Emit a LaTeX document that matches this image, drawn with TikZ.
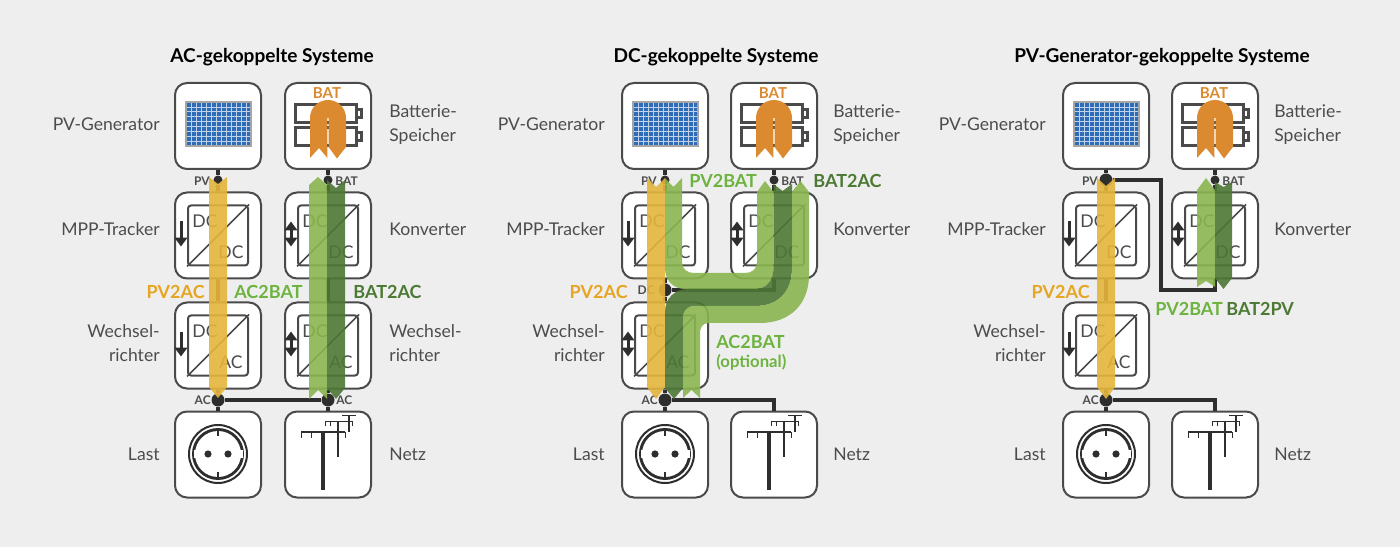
\documentclass[tikz,border=0pt]{standalone}
\usepackage{fontspec}
\setmainfont{Lato}
\usetikzlibrary{arrows.meta}

\definecolor{bggray}{HTML}{EEEEEE}
\definecolor{wiregray}{HTML}{2E2E2E}
\definecolor{boxgray}{HTML}{4A4A4A}
\definecolor{labelgray}{HTML}{4C4C4C}
\definecolor{flowyel}{HTML}{E5B53B}
\definecolor{flowlgt}{HTML}{8AB54F}
\definecolor{flowdrk}{HTML}{4D7735}
\definecolor{txtyel}{HTML}{E6A522}
\definecolor{txtlgt}{HTML}{6DB33F}
\definecolor{txtdrk}{HTML}{4C7A34}
\definecolor{batorange}{HTML}{DC8A30}
\definecolor{panelblue}{HTML}{2F6CB8}

\def\pxu{0.02cm}

\tikzset{
	unitbox/.style={draw=boxgray, fill=white, line width=2*\pxu, rounded corners=12*\pxu, minimum size=86*\pxu, inner sep=0},
	innerbox/.style={draw=boxgray, line width=2*\pxu, rounded corners=3*\pxu, minimum size=60*\pxu, inner sep=0},
	wire/.style={draw=wiregray, line width=3.6*\pxu},
	jsmall/.style={circle, fill=wiregray, minimum size=9*\pxu, inner sep=0},
	jbig/.style={circle, fill=wiregray, minimum size=13*\pxu, inner sep=0},
	lbl/.style={text=labelgray, inner sep=0, font=\fontsize{10}{13.7}\selectfont},
	title/.style={text=black, inner sep=0, font=\fontsize{10.85}{13}\selectfont\bfseries},
	portlbl/.style={text=labelgray, inner sep=0, font=\fontsize{6.8}{8}\selectfont\bfseries},
	dclbl/.style={text=labelgray, inner sep=0, font=\fontsize{10}{11}\selectfont},
	flowlbl/.style={inner sep=0, font=\fontsize{10.25}{12}\selectfont\bfseries},
	flowyellow/.style={fill=flowyel, fill opacity=.9},
	flowlight/.style={fill=flowlgt, fill opacity=.9},
	flowdark/.style={fill=flowdrk, fill opacity=.9},
	onearrow/.style={line width=3*\pxu, -{Triangle[length=5pt,width=7pt]}},
	twoarrow/.style={line width=3*\pxu, {Triangle[length=5pt,width=7pt]}-{Triangle[length=5pt,width=7pt]}},
}

% dc box: name, x, y, lower text, arrow style
\newcommand{\dcbox}[5]{
	\node [unitbox] (#1) at (#2,#3) {};
	\node [innerbox] (#1i) at (#2,#3) {};
	\draw [draw=boxgray, line width=1.5*\pxu] (#1i.south west) -- (#1i.north east);
	\node [dclbl] (#1t) at ({#2-13},{#3-14}) {DC};
	\node [dclbl] (#1b) at ({#2+13},{#3+17}) {#4};
	\draw [wiregray, #5] ([shift={(-6,-14)}]#1i.west) -- ([shift={(-6,11)}]#1i.west);
}

% straight flow: style, x1, x2, tail, notch, shoulder, tip
\newcommand{\flowbar}[7]{
	\path [#1] (#2,#4) -- ({(#2+#3)/2},#5) -- (#3,#4) -- (#3,#6) -- ({(#2+#3)/2},#7) -- (#2,#6) -- cycle;
}

\begin{document}
\begin{tikzpicture}[x=\pxu, y=-\pxu, line cap=butt, line join=miter]
	\useasboundingbox (0,0) rectangle (1400,547);
	\fill [bggray] (0,0) rectangle (1400,547);

	\foreach \sys/\xa/\xb/\cx/\ttl/\inva/\jpv/\lx/\rx in {a/218/328/272/AC-gekoppelte Systeme/onearrow/jsmall/160/389,
		b/665/774/716/DC-gekoppelte Systeme/twoarrow/jsmall/605/833,
		c/1106/1215/1162/PV-Generator-gekoppelte Systeme/onearrow/jbig/1046/1274}{
		\node [title] (title\sys) at (\cx,57) {\ttl};

		\node [unitbox] (pv\sys) at (\xa,126) {};
		\node [unitbox] (bat\sys) at (\xb,126) {};
		\node [unitbox] (last\sys) at (\xa,454.5) {};
		\node [unitbox] (netz\sys) at (\xb,454.5) {};
		\dcbox{mpp\sys}{\xa}{235.5}{DC}{onearrow}
		\dcbox{conv\sys}{\xb}{235.5}{DC}{twoarrow}
		\dcbox{inv\sys}{\xa}{345.5}{AC}{\inva}

		% pv panel
		\begin{scope}[shift={(\xa,0)}]
			\fill [panelblue] (-32,102) rectangle (33,146);
			\foreach \i in {1,...,12}
				\draw [white!70!panelblue, line width=0.7*\pxu] ({-32+5*\i},102) -- ({-32+5*\i},146);
			\foreach \j in {1,...,8}
				\draw [white!70!panelblue, line width=0.7*\pxu] (-32,{102+4.9*\j}) -- (33,{102+4.9*\j});
			\draw [gray!70, line width=1.2*\pxu] (-32,102) rectangle (33,146);
		\end{scope}

		% battery
		\begin{scope}[shift={(\xb,0)}]
			\foreach \by in {0,23}{
				\draw [boxgray, line width=3*\pxu] (-33,{105+\by}) rectangle (28,{123+\by});
				\draw [boxgray, line width=3*\pxu] (28,{110+\by}) rectangle (33,{118+\by});
			}
			\fill [batorange] (-18,158) -- (-18,118) arc (180:360:18 and 18) -- (18,147) -- (9,158.5) -- (0.6,147) -- (0.6,118) -- (-0.6,118) -- (-0.6,158) -- (-9,148) -- cycle;
		\end{scope}
		\node [inner sep=0, text=batorange, font=\fontsize{8.6}{9}\selectfont\bfseries] (battxt\sys) at ({\xb-1},93) {BAT};

		% socket
		\begin{scope}[shift={(\xa,454)}]
			\draw [wiregray, line width=2*\pxu] (0,0) circle (29);
			\fill [wiregray] (0,0) circle (26);
			\fill [white] (0,0) circle (23);
			\fill [white] (-24.5,-4) rectangle (24.5,4);
			\draw [wiregray, line width=1.5*\pxu] (0,-24) -- (0,-18);
			\draw [wiregray, line width=1.5*\pxu] (0,18) -- (0,24);
			\fill [wiregray] (-10,0) circle (3.6);
			\fill [wiregray] (10,0) circle (3.6);
		\end{scope}

		% pylons
		\begin{scope}[shift={(\xb,0)}, wiregray]
			\draw [line width=3.4*\pxu] (-5,431) -- (-5,490);
			\draw [line width=1.2*\pxu] (-27,432) -- (17,432);
			\foreach \t in {-27,-17,17}
				\draw [line width=1*\pxu] (\t,432) -- (\t,438);
			\draw [line width=2.6*\pxu] (10,421) -- (10,457);
			\draw [line width=1*\pxu] (-3,421) -- (24,421);
			\foreach \t in {-3,2,24}
				\draw [line width=0.8*\pxu] (\t,421) -- (\t,426);
			\draw [line width=2*\pxu] (21,415) -- (21,432);
			\draw [line width=0.8*\pxu] (14,415) -- (28,415);
		\end{scope}

		\node [\jpv] (jpv\sys) at (\xa,180) {};
		\node [jsmall] (jbat\sys) at (\xb,180) {};
		\node [jbig] (jac\sys) at (\xa,400) {};
		\draw [wire] (pv\sys) -- (jpv\sys) -- (mpp\sys);
		\draw [wire] (bat\sys) -- (jbat\sys) -- (conv\sys);
		\draw [wire] (inv\sys) -- (jac\sys) -- (last\sys);

		\node [portlbl, anchor=east] (lpv\sys) at ({\xa-8},181) {PV};
		\node [portlbl, anchor=west] (lbat\sys) at ({\xb+7},181) {BAT};
		\node [portlbl, anchor=east] (lac\sys) at ({\xa-7},400) {AC};

		\node [lbl, anchor=east] (npv\sys) at (\lx,124) {PV-Generator};
		\node [lbl, anchor=east] (nmpp\sys) at (\lx,229) {MPP-Tracker};
		\node [lbl, anchor=east, align=right] (ninv\sys) at (\lx,343) {Wechsel-\\richter};
		\node [lbl, anchor=east] (nlast\sys) at (\lx,454) {Last};
		\node [lbl, anchor=west, align=left] (nbat\sys) at (\rx,125) {Batterie-\\Speicher};
		\node [lbl, anchor=west] (nconv\sys) at (\rx,229) {Konverter};
		\node [lbl, anchor=west] (nnetz\sys) at (\rx,454) {Netz};
	}

	% AC-gekoppelt
	\dcbox{inv2a}{328}{345.5}{AC}{twoarrow}
	\node [jbig] (jnet) at (328,400) {};
	\draw [wire] (mppa) -- (inva);
	\draw [wire] (conva) -- (inv2a);
	\draw [wire] (inv2a) -- (jnet) -- (netza);
	\draw [wire] (jaca) -- (jnet);
	\node [lbl, anchor=west, align=left] (ninv2a) at (389,343) {Wechsel-\\richter};
	\node [portlbl, anchor=west] (lac2a) at (336,400) {AC};

	% DC-gekoppelt
	\node [jbig] (jdc) at (665,290) {};
	\draw [wire] (mppb) -- (jdc) -- (invb);
	\draw [wire] (jdc) -| (convb);
	\draw [wire] (jacb) -| (netzb);
	\node [portlbl, anchor=east] (ldc) at (655,290) {DC};

	% PV-gekoppelt
	\coordinate (bendc) at (1161,290);
	\draw [wire] (mppc) -- (invc);
	\draw [wire] (jpvc) -| (bendc) -| (convc);
	\draw [wire] (jacc) -| (netzc);

	% flows
	\flowbar{flowyellow}{209}{227}{177}{184}{387}{398}
	\flowbar{flowlight}{309}{327}{399}{390}{185}{177}
	\flowbar{flowdark}{327}{345}{180}{188}{388}{399}

	\flowbar{flowyellow}{647}{665}{178}{187}{387}{399}
	\path [flowlight] (665,178) -- (673.5,187) -- (682,178) -- (682,262) .. controls (682,269) and (687,273) .. (694,273) -- (745,273) .. controls (752,273) and (757,269) .. (757,262) -- (757,192) -- (765,181) -- (773.5,192) -- (773.5,268) .. controls (773.5,281) and (766,289) .. (755,289) -- (685,289) .. controls (673,289) and (665,280) .. (665,268) -- cycle;
	\path [flowdark] (773.5,184) -- (782.5,191) -- (792,184) -- (792,268) .. controls (792,292) and (778,306) .. (755,306) -- (695,306) .. controls (688,306) and (683,310) .. (683,318) -- (683,388) -- (674,399) -- (665,388) -- (665,312) .. controls (665,298) and (675,289) .. (688,289) -- (755,289) .. controls (766,289) and (773.5,281) .. (773.5,268) -- cycle;
	\path [flowlight] (683,398) -- (691.5,390) -- (700,398) -- (700,333) .. controls (700,327) and (703,323) .. (709,323) -- (760,323) .. controls (790,323) and (809,304) .. (809,275) -- (809,192) -- (800.5,181) -- (792,192) -- (792,268) .. controls (792,292) and (778,306) .. (755,306) -- (695,306) .. controls (688,306) and (683,310) .. (683,318) -- cycle;

	\flowbar{flowyellow}{1097}{1115}{178}{186}{387}{399}
	\flowbar{flowlight}{1197}{1215}{287}{281}{190}{178}
	\flowbar{flowdark}{1215}{1232}{182}{187}{278}{289}

	% flow labels
	\node [flowlbl, text=txtyel, anchor=east] (pv2aca) at (205,292) {PV2AC};
	\node [flowlbl, text=txtlgt, anchor=west] (ac2bata) at (234,292) {AC2BAT};
	\node [flowlbl, text=txtdrk, anchor=west] (bat2aca) at (353,292) {BAT2AC};
	\node [flowlbl, text=txtyel, anchor=east] (pv2acb) at (628,292) {PV2AC};
	\node [flowlbl, text=txtlgt, anchor=west] (pv2batb) at (689,181) {PV2BAT};
	\node [flowlbl, text=txtdrk, anchor=west] (bat2acb) at (813,181) {BAT2AC};
	\node [flowlbl, text=txtlgt, anchor=west] (ac2batb) at (716,342) {AC2BAT};
	\node [flowlbl, text=txtlgt, anchor=west, font=\fontsize{9.5}{10}\selectfont\bfseries] (optb) at (716,362) {(optional)};
	\node [flowlbl, text=txtyel, anchor=east] (pv2acc) at (1090,292) {PV2AC};
	\node [flowlbl, text=txtlgt, anchor=west] (pv2batc) at (1155,309) {PV2BAT};
	\node [flowlbl, text=txtdrk, anchor=west] (bat2pvc) at (1226,309) {BAT2PV};
\end{tikzpicture}
\end{document}
